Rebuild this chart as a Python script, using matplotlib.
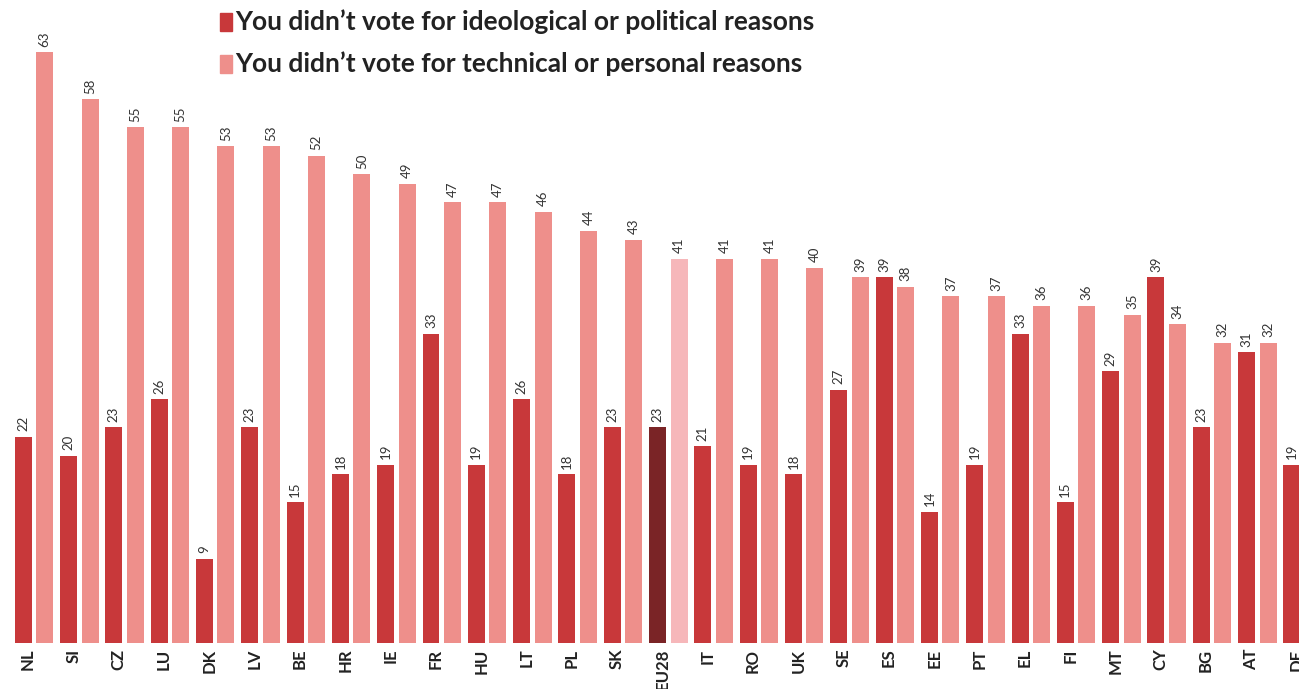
import matplotlib
matplotlib.use("Agg")
import matplotlib.pyplot as plt
from matplotlib.patches import Rectangle

countries = ["NL", "SI", "CZ", "LU", "DK", "LV", "BE", "HR", "IE", "FR", "HU", "LT", "PL", "SK",
             "EU28", "IT", "RO", "UK", "SE", "ES", "EE", "PT", "EL", "FI", "MT", "CY", "BG", "AT", "DE"]
ideological = [22, 20, 23, 26, 9, 23, 15, 18, 19, 33, 19, 26, 18, 23,
               23, 21, 19, 18, 27, 39, 14, 19, 33, 15, 29, 39, 23, 31, 19]
technical = [63, 58, 55, 55, 53, 53, 52, 50, 49, 47, 47, 46, 44, 43,
             41, 41, 41, 40, 39, 38, 37, 37, 36, 36, 35, 34, 32, 32, 31]
series_names = ["You didn\u2019t vote for ideological or political reasons",
                "You didn\u2019t vote for technical or personal reasons"]

DARK = "#C8383A"
LIGHT = "#EE8F8B"
EU_DARK = "#7A2426"
EU_LIGHT = "#F6B7BA"

plt.rcParams['font.family'] = ['Lato', 'DejaVu Sans']

fig = plt.figure(figsize=(12.99, 6.89), dpi=100)
ax = fig.add_axes([0, 46/689, 1, 643/689])

w = 0.375
off = 0.2375
xs = list(range(len(countries)))
dcol = [EU_DARK if c == "EU28" else DARK for c in countries]
lcol = [EU_LIGHT if c == "EU28" else LIGHT for c in countries]
ax.bar([x - off for x in xs], ideological, width=w, color=dcol)
ax.bar([x + off for x in xs], technical, width=w, color=lcol)

for x, v in zip(xs, ideological):
    ax.text(x - off, v + 0.6, str(v), rotation=90, ha="center", va="bottom",
            fontsize=9.5, color="#333333")
for x, v in zip(xs, technical):
    ax.text(x + off, v + 0.6, str(v), rotation=90, ha="center", va="bottom",
            fontsize=9.5, color="#333333")

ax.set_xlim(-0.75, 27.92)
ax.set_ylim(0, 68.6)
ax.set_xticks([x - 0.13 for x in xs])
ax.set_xticklabels(countries, rotation=90, fontsize=12, fontweight="bold", va="top",
                   color="#222222")
ax.tick_params(axis="x", length=0, pad=4)
ax.set_yticks([])
for s in ax.spines.values():
    s.set_visible(False)

# legend
for i, (name, col) in enumerate(zip(series_names, [DARK, LIGHT])):
    y = 1 - (22 + 42 * i) / 689
    fig.patches.append(Rectangle((220 / 1299, y - 9 / 689), 12 / 1299, 18 / 689,
                                 transform=fig.transFigure, color=col))
    fig.text(235 / 1299, y, name, fontsize=19, fontweight="bold", color="#222222",
             va="center", ha="left")

fig.savefig("out.png", dpi=100)
